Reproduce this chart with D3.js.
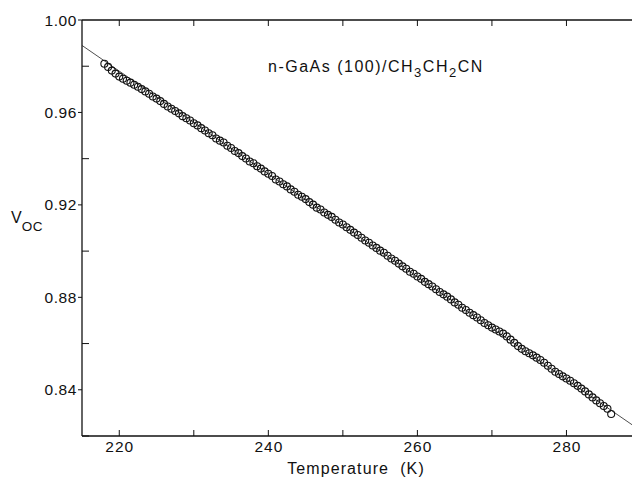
<!DOCTYPE html>
<html><head><meta charset="utf-8">
<script src="https://cdn.jsdelivr.net/npm/d3@7"></script>
<style>body{margin:0;background:#fff}svg{display:block}text{font-family:"Liberation Sans",Arial,sans-serif;fill:#111}</style>
</head><body><div id="chart"></div>
<script>
const temperature = [218,218.5,219,219.5,220,220.5,221,221.5,222,222.5,223,223.5,224,224.5,225,225.5,226,226.5,227,227.5,
228,228.5,229,229.5,230,230.5,231,231.5,232,232.5,233,233.5,234,234.5,235,235.5,236,236.5,237,237.5,
238,238.5,239,239.5,240,240.5,241,241.5,242,242.5,243,243.5,244,244.5,245,245.5,246,246.5,247,247.5,
248,248.5,249,249.5,250,250.5,251,251.5,252,252.5,253,253.5,254,254.5,255,255.5,256,256.5,257,257.5,
258,258.5,259,259.5,260,260.5,261,261.5,262,262.5,263,263.5,264,264.5,265,265.5,266,266.5,267,267.5,
268,268.5,269,269.5,270,270.5,271,271.5,272,272.5,273,273.5,274,274.5,275,275.5,276,276.5,277,277.5,
278,278.5,279,279.5,280,280.5,281,281.5,282,282.5,283,283.5,284,284.5,285,285.5,286];
const voc = [0.9811,0.9797,0.9781,0.9768,0.9755,0.9746,0.9737,0.9729,0.9720,0.9711,0.9701,0.9691,0.9681,0.9669,0.9660,0.9649,0.9637,0.9626,0.9616,0.9606,
0.9596,0.9584,0.9575,0.9565,0.9553,0.9544,0.9532,0.9522,0.9510,0.9501,0.9487,0.9478,0.9470,0.9456,0.9446,0.9433,0.9424,0.9411,0.9401,0.9388,
0.9380,0.9367,0.9357,0.9345,0.9335,0.9325,0.9310,0.9301,0.9289,0.9280,0.9267,0.9257,0.9244,0.9235,0.9225,0.9212,0.9201,0.9188,0.9180,0.9167,
0.9157,0.9148,0.9136,0.9124,0.9115,0.9103,0.9092,0.9080,0.9070,0.9058,0.9046,0.9036,0.9024,0.9014,0.9002,0.8993,0.8980,0.8968,0.8958,0.8946,
0.8934,0.8924,0.8911,0.8902,0.8890,0.8880,0.8867,0.8857,0.8847,0.8835,0.8823,0.8813,0.8803,0.8791,0.8778,0.8768,0.8755,0.8745,0.8733,0.8723,
0.8713,0.8701,0.8689,0.8679,0.8669,0.8661,0.8652,0.8643,0.8631,0.8617,0.8603,0.8589,0.8577,0.8567,0.8558,0.8549,0.8539,0.8529,0.8517,0.8504,
0.8491,0.8478,0.8468,0.8458,0.8449,0.8439,0.8428,0.8417,0.8405,0.8393,0.8380,0.8367,0.8354,0.8342,0.8330,0.8318,0.8295];
const fitT = [215, 290];
const fitV = [0.989, 0.8222];
const xMajor = [220, 240, 260, 280];
const xMinor = [220, 230, 240, 250, 260, 270, 280, 290];
const yMajor = [0.84, 0.88, 0.92, 0.96, 1.00];
const yMinor = [0.82, 0.86, 0.90, 0.94, 0.98];

const W = 632, H = 477;
const svg = d3.select("#chart").append("svg").attr("width", W).attr("height", H);
const x = d3.scaleLinear().domain([215, 290]).range([82, 641]);
const y = d3.scaleLinear().domain([0.82, 1.00]).range([436, 20]);

// frame
svg.append("line").attr("x1", 82).attr("x2", W).attr("y1", y(1.0)).attr("y2", y(1.0)).attr("stroke", "#111").attr("stroke-width", 1.3);
svg.append("line").attr("x1", 82).attr("x2", W).attr("y1", y(0.82)).attr("y2", y(0.82)).attr("stroke", "#111").attr("stroke-width", 1.3);
svg.append("line").attr("x1", 82).attr("x2", 82).attr("y1", y(1.0)).attr("y2", y(0.82)).attr("stroke", "#111").attr("stroke-width", 1.3);

// x ticks (inward, bottom and top)
svg.selectAll(".xtb").data(xMinor).join("line").attr("x1", d => x(d)).attr("x2", d => x(d))
  .attr("y1", y(0.82)).attr("y2", y(0.82) - 6).attr("stroke", "#111").attr("stroke-width", 1);
svg.selectAll(".xtt").data(xMinor).join("line").attr("x1", d => x(d)).attr("x2", d => x(d))
  .attr("y1", y(1.0)).attr("y2", y(1.0) + 6).attr("stroke", "#111").attr("stroke-width", 1);
svg.selectAll(".xl").data(xMajor).join("text").attr("x", d => x(d) + 0.5).attr("y", 452)
  .attr("text-anchor", "middle").attr("font-size", 15.5).attr("letter-spacing", 1).text(d => d);

// y ticks
svg.selectAll(".ytm").data(yMajor).join("line").attr("x1", 78).attr("x2", 82)
  .attr("y1", d => y(d)).attr("y2", d => y(d)).attr("stroke", "#111").attr("stroke-width", 1);
svg.selectAll(".ytn").data(yMinor).join("line").attr("x1", 82).attr("x2", 89)
  .attr("y1", d => y(d)).attr("y2", d => y(d)).attr("stroke", "#111").attr("stroke-width", 1);
svg.selectAll(".yl").data(yMajor).join("text").attr("x", 77).attr("y", d => y(d) + 5.5)
  .attr("text-anchor", "end").attr("font-size", 15.5).attr("letter-spacing", 0.6).text(d => d3.format(".2f")(d));

// fit line
svg.append("line").attr("x1", x(fitT[0])).attr("y1", y(fitV[0])).attr("x2", x(fitT[1])).attr("y2", y(fitV[1]))
  .attr("stroke", "#222").attr("stroke-width", 0.8);

// data points
svg.selectAll(".pt").data(temperature).join("circle")
  .attr("cx", d => x(d)).attr("cy", (d, i) => y(voc[i])).attr("r", 3.5)
  .attr("fill", "none").attr("stroke", "#111").attr("stroke-width", 1.1);

// axis titles
svg.append("text").attr("x", 356).attr("y", 474).attr("text-anchor", "middle").attr("font-size", 16)
  .attr("letter-spacing", 1.1).attr("xml:space", "preserve").text("Temperature  (K)");
const yl = svg.append("text").attr("x", 11).attr("y", 223).attr("font-size", 16);
yl.append("tspan").text("V");
yl.append("tspan").attr("dy", 8).attr("font-size", 13.5).attr("letter-spacing", 0.5).text("OC");

// annotation
const ann = svg.append("text").attr("x", 268).attr("y", 72).attr("font-size", 16).attr("letter-spacing", 1.5).attr("xml:space", "preserve");
ann.append("tspan").text("n-GaAs (100)/CH");
ann.append("tspan").attr("dy", 5).attr("font-size", 13).text("3");
ann.append("tspan").attr("dy", -5).text("CH");
ann.append("tspan").attr("dy", 5).attr("font-size", 13).text("2");
ann.append("tspan").attr("dy", -5).text("CN");
</script></body></html>
